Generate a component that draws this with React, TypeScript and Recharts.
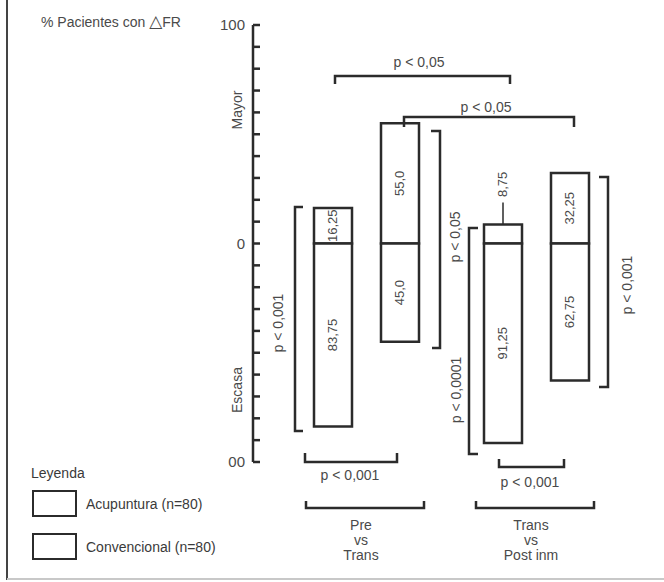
import React from "react";
import { Bar, BarChart, LabelList, XAxis, YAxis } from "recharts";

const categories = ["Pre vs Trans", "Trans vs Post inm"];
// % pacientes: Mayor (positivo) / Escasa (negativo)
const acuMayor = [16.25, 8.75];
const acuEscasa = [83.75, 91.25];
const convMayor = [55.0, 32.25];
const convEscasa = [45.0, 62.75];

const yTicks = [-100, -90, -80, -70, -60, -50, -40, -30, -20, -10, 0, 10, 20, 30, 40, 50, 60, 70, 80, 90, 100];
const yTickLabels: Record<string, string> = { "100": "100", "0": "0", "-100": "00" };
const legendItems = ["Acupuntura (n=80)", "Convencional (n=80)"];

const FONT = "'Liberation Sans', 'DejaVu Sans', sans-serif";
const INK = "#2b2b2b";
const TEXT = "#4a4a4a";
// default tickSize (6) + tickMargin (2)
const TICK_OFF = 8;

const data = categories.map((name, i) => ({
  name,
  acuMayor: acuMayor[i],
  acuEscasa: -acuEscasa[i],
  convMayor: convMayor[i],
  convEscasa: -convEscasa[i],
}));

const fmt = (v: number) => {
  const a = Math.abs(v);
  return (Number.isInteger(a) ? a.toFixed(1) : String(a)).replace(".", ",");
};

function SegLabel(props: any) {
  const { x, y, width, height } = props;
  let value = props.value;
  if (Array.isArray(value)) value = value[1] - value[0];
  const top = Math.min(y, y + height);
  const h = Math.abs(height);
  const cx = x + width / 2;
  if (h < 25) {
    const ty = top - 40;
    return (
      <g>
        <line x1={cx} x2={cx} y1={top} y2={top - 22} stroke={INK} strokeWidth={1.5} />
        <text x={cx} y={ty} transform={`rotate(-90 ${cx} ${ty})`} textAnchor="middle" dominantBaseline="central"
          fontSize={13} fill={TEXT} fontFamily={FONT}>{fmt(value)}</text>
      </g>
    );
  }
  const cy = top + h / 2;
  return (
    <text x={cx} y={cy} transform={`rotate(-90 ${cx} ${cy})`} textAnchor="middle" dominantBaseline="central"
      fontSize={13} fill={TEXT} fontFamily={FONT}>{fmt(value)}</text>
  );
}

function YTick(props: any) {
  const { y, payload } = props;
  const x = props.x + TICK_OFF;
  const label = yTickLabels[String(payload.value)];
  return (
    <g>
      <line x1={x} x2={x + 7} y1={y} y2={y} stroke={INK} strokeWidth={2.5} />
      {label && (
        <text x={x - 8} y={y} dy={5} textAnchor="end" fontSize={15} fill={TEXT} fontFamily={FONT}>{label}</text>
      )}
    </g>
  );
}

function XTick(props: any) {
  const { x, payload } = props;
  const y = props.y - TICK_OFF;
  const [a, b] = String(payload.value).split(" vs ");
  const lines = [a, "vs", b];
  return (
    <g>
      <path d={`M${x - 60} ${y + 39} V${y + 46} H${x + 58} V${y + 39}`} fill="none" stroke={INK} strokeWidth={2.5} />
      {lines.map((t, i) => (
        <text key={i} x={x - 5} y={y + 68 + i * 15} textAnchor="middle" fontSize={14} fill={TEXT} fontFamily={FONT}>{t}</text>
      ))}
    </g>
  );
}

function LegendBox() {
  return (
    <div style={{ position: "absolute", left: 0, top: 0, width: 250, height: 582, fontFamily: FONT, color: "#3a3a3a", pointerEvents: "none" }}>
      <div style={{ position: "absolute", left: 31, top: 465, fontSize: 14 }}>Leyenda</div>
      {legendItems.map((l, i) => (
        <div key={l} style={{ position: "absolute", left: 32, top: 490 + i * 43, display: "flex", alignItems: "center" }}>
          <span style={{ display: "inline-block", width: 45, height: 27, border: `2.5px solid ${INK}`, boxSizing: "border-box", background: "#fff" }} />
          <span style={{ marginLeft: 9, fontSize: 14 }}>{l}</span>
        </div>
      ))}
    </div>
  );
}

function VText({ x, y, children }: { x: number; y: number; children: React.ReactNode }) {
  return (
    <text x={x} y={y} transform={`rotate(-90 ${x} ${y})`} textAnchor="middle" dominantBaseline="central"
      fontSize={14} fill={TEXT} fontFamily={FONT}>{children}</text>
  );
}

function HText({ x, y, children }: { x: number; y: number; children: React.ReactNode }) {
  return (
    <text x={x} y={y} textAnchor="middle" dominantBaseline="central" fontSize={14} fill={TEXT} fontFamily={FONT}>{children}</text>
  );
}

function Annotations() {
  const br = { fill: "none", stroke: INK, strokeWidth: 2.5 };
  return (
    <svg width={664} height={582} style={{ position: "absolute", left: 0, top: 0, pointerEvents: "none" }}>
      <line x1={7} x2={7} y1={0} y2={580} stroke="#444" strokeWidth={2} />
      <line x1={7} x2={664} y1={579} y2={579} stroke="#c8c8c8" strokeWidth={2} />
      <text x={41} y={27} fontSize={14} fill={TEXT} fontFamily={FONT}>
        % Pacientes con <tspan fontSize={17}>△</tspan>FR
      </text>
      <VText x={237} y={110}>Mayor</VText>
      <VText x={237} y={390}>Escasa</VText>

      <path d="M335 84 V76 H510 V84" {...br} />
      <HText x={419} y={62}>p &lt; 0,05</HText>
      <path d="M404 127 V117 H574 V127" {...br} />
      <HText x={486} y={107}>p &lt; 0,05</HText>

      <path d="M303 207 H295 V431 H303" {...br} />
      <VText x={278} y={323}>p &lt; 0,001</VText>
      <path d="M431 131 H440 V348 H432" {...br} />
      <VText x={455} y={237}>p &lt; 0,05</VText>
      <path d="M478 228 H469 V454 H478" {...br} />
      <VText x={456} y={390}>p &lt; 0,0001</VText>
      <path d="M599 177 H608 V387 H599" {...br} />
      <VText x={627} y={285}>p &lt; 0,001</VText>

      <path d="M305 453 V462 H397 V453" {...br} />
      <HText x={350} y={475}>p &lt; 0,001</HText>
      <path d="M499 459 V467 H564 V459" {...br} />
      <HText x={530} y={482}>p &lt; 0,001</HText>
    </svg>
  );
}

export default function App() {
  return (
    <div style={{ position: "absolute", left: 0, top: 0, width: 664, height: 582, background: "#fff" }}>
      <BarChart
        width={664}
        height={582}
        data={data}
        stackOffset="sign"
        barGap={29}
        margin={{ top: 25, right: 43, bottom: 20, left: 0 }}
      >
        <XAxis
          dataKey="name"
          axisLine={false}
          tickLine={false}
          height={100}
          padding={{ left: 28, right: 0 }}
          tick={XTick}
        />
        <YAxis
          type="number"
          domain={[-100, 100]}
          ticks={yTicks}
          interval={0}
          width={253}
          axisLine={{ stroke: INK, strokeWidth: 2.5 }}
          tickLine={false}
          tick={YTick}
        />
        <Bar dataKey="acuMayor" stackId="acu" fill="#fff" stroke={INK} strokeWidth={2.5} barSize={38} isAnimationActive={false}>
          <LabelList dataKey="acuMayor" content={SegLabel} />
        </Bar>
        <Bar dataKey="acuEscasa" stackId="acu" fill="#fff" stroke={INK} strokeWidth={2.5} barSize={38} isAnimationActive={false}>
          <LabelList dataKey="acuEscasa" content={SegLabel} />
        </Bar>
        <Bar dataKey="convMayor" stackId="conv" fill="#fff" stroke={INK} strokeWidth={2.5} barSize={38} isAnimationActive={false}>
          <LabelList dataKey="convMayor" content={SegLabel} />
        </Bar>
        <Bar dataKey="convEscasa" stackId="conv" fill="#fff" stroke={INK} strokeWidth={2.5} barSize={38} isAnimationActive={false}>
          <LabelList dataKey="convEscasa" content={SegLabel} />
        </Bar>
      </BarChart>
      <LegendBox />
      <Annotations />
    </div>
  );
}
